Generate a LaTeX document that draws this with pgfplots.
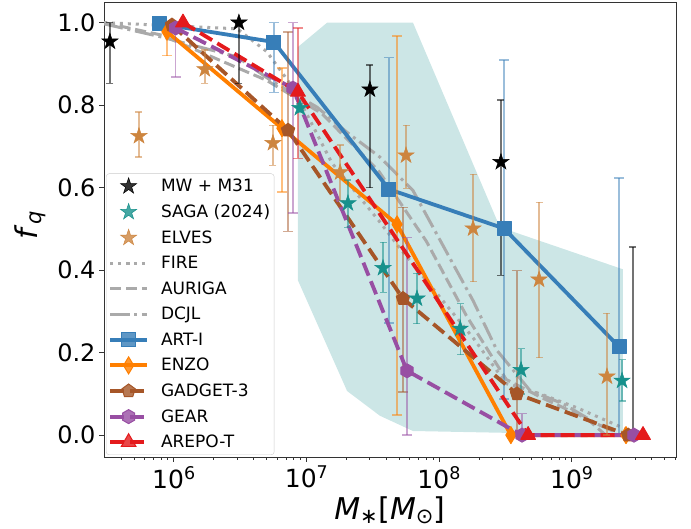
\documentclass[border=0pt]{standalone}
\usepackage{fontspec}
\setmainfont{DejaVu Sans}
\usepackage{pgfplots}
\pgfplotsset{compat=1.18}

\definecolor{cart}{HTML}{377EB8}
\definecolor{cenzo}{HTML}{FF7F00}
\definecolor{cgadget}{HTML}{A65628}
\definecolor{cgear}{HTML}{984EA3}
\definecolor{carepo}{HTML}{E41A1C}
\definecolor{csaga}{HTML}{17918C}
\definecolor{celves}{HTML}{CD853F}
\definecolor{cgrey}{HTML}{AAAAAA}
\definecolor{cshade}{HTML}{008080}

% matplotlib-like markers: filled star, thin diamond, hexagon
\pgfdeclareplotmark{fstar}{%
  \pgfpathmoveto{\pgfpointpolar{90}{\pgfplotmarksize}}%
  \pgfpathlineto{\pgfpointpolar{126}{0.382\pgfplotmarksize}}%
  \pgfpathlineto{\pgfpointpolar{162}{\pgfplotmarksize}}%
  \pgfpathlineto{\pgfpointpolar{198}{0.382\pgfplotmarksize}}%
  \pgfpathlineto{\pgfpointpolar{234}{\pgfplotmarksize}}%
  \pgfpathlineto{\pgfpointpolar{270}{0.382\pgfplotmarksize}}%
  \pgfpathlineto{\pgfpointpolar{306}{\pgfplotmarksize}}%
  \pgfpathlineto{\pgfpointpolar{342}{0.382\pgfplotmarksize}}%
  \pgfpathlineto{\pgfpointpolar{18}{\pgfplotmarksize}}%
  \pgfpathlineto{\pgfpointpolar{54}{0.382\pgfplotmarksize}}%
  \pgfpathclose\pgfusepathqfillstroke}
\pgfdeclareplotmark{tdiamond}{%
  \pgfpathmoveto{\pgfpoint{0pt}{\pgfplotmarksize}}%
  \pgfpathlineto{\pgfpoint{0.6\pgfplotmarksize}{0pt}}%
  \pgfpathlineto{\pgfpoint{0pt}{-\pgfplotmarksize}}%
  \pgfpathlineto{\pgfpoint{-0.6\pgfplotmarksize}{0pt}}%
  \pgfpathclose\pgfusepathqfillstroke}
\pgfdeclareplotmark{hexagon}{%
  \pgfpathmoveto{\pgfpointpolar{90}{\pgfplotmarksize}}%
  \pgfpathlineto{\pgfpointpolar{150}{\pgfplotmarksize}}%
  \pgfpathlineto{\pgfpointpolar{210}{\pgfplotmarksize}}%
  \pgfpathlineto{\pgfpointpolar{270}{\pgfplotmarksize}}%
  \pgfpathlineto{\pgfpointpolar{330}{\pgfplotmarksize}}%
  \pgfpathlineto{\pgfpointpolar{30}{\pgfplotmarksize}}%
  \pgfpathclose\pgfusepathqfillstroke}

\pgfplotsset{
  simerr/.style={error bars/.cd, y dir=both, y explicit,
    error bar style={line width=1.5pt, solid, draw opacity=0.5},
    error mark options={rotate=90, line width=1.5pt, mark size=5pt, draw opacity=0.5}},
  obserr/.style={error bars/.cd, y dir=both, y explicit,
    error bar style={line width=1.4pt, solid, draw opacity=0.55},
    error mark options={rotate=90, line width=1.4pt, mark size=3.5pt, draw opacity=0.55}},
  dashsim/.style={dash pattern=on 14pt off 6pt},
}

\begin{document}
\begin{tikzpicture}
\useasboundingbox (-104pt,-72pt) rectangle (587pt,457pt);
\begin{axis}[
  at={(0pt,0pt)}, anchor=south west,
  scale only axis, width=572pt, height=455pt,
  xmode=log, xmin=2.97e5, xmax=6.1e9, ymin=-0.053, ymax=1.05,
  axis line style={black!80, line width=0.9pt},
  tick align=outside, tick pos=left,
  major tick length=5pt, minor tick length=3pt,
  every tick/.style={black!80, line width=0.9pt},
  xtick={1e6,1e7,1e8,1e9},
  xticklabels={10\textsuperscript{6},10\textsuperscript{7},10\textsuperscript{8},10\textsuperscript{9}},
  minor xtick={4e5,5e5,6e5,7e5,8e5,9e5,2e6,3e6,4e6,5e6,6e6,7e6,8e6,9e6,2e7,3e7,4e7,5e7,6e7,7e7,8e7,9e7,2e8,3e8,4e8,5e8,6e8,7e8,8e8,9e8,2e9,3e9,4e9,5e9,6e9},
  ytick={0,0.2,0.4,0.6,0.8,1.0},
  yticklabels={0.0,0.2,0.4,0.6,0.8,1.0},
  tick label style={font=\fontsize{24}{24}\selectfont},
  xticklabel style={yshift=-3pt, inner sep=1pt, font=\fontsize{25}{25}\selectfont},
  xlabel={\textit{M}\textsubscript{∗}[\textit{M}\textsubscript{⊙}]},
  ylabel={\textit{f}\textsubscript{\textit{q}}},
  every axis x label/.style={at={(axis description cs:0.5,-0.117)}, anchor=center, inner sep=0pt,
    font=\fontsize{30}{30}\selectfont},
  every axis y label/.style={at={(axis description cs:-0.129,0.51)}, anchor=center, rotate=90,
    font=\fontsize{30}{30}\selectfont},
  legend style={at={(0.0035,0.0044)}, anchor=south west,
    draw=black!20, fill=white, fill opacity=0.8, text opacity=1,
    rounded corners=3pt, font=\fontsize{17}{17}\selectfont,
    inner xsep=2pt, inner ysep=3.5pt, row sep=7.5pt, column sep=10pt},
  legend cell align=left,
  legend image code/.code={\draw[mark repeat=2,mark phase=2,#1] plot coordinates {(0pt,0pt) (18.5pt,0pt) (37pt,0pt)};},
]

% legend entries, in the reference's order
\addlegendimage{only marks, mark=fstar, mark size=8.5pt, mark options={draw=black, fill=black, line width=0.5pt}}
\addlegendentry{MW + M31}
\addlegendimage{only marks, mark=fstar, mark size=8.5pt, mark options={draw=csaga, fill=csaga, line width=0.5pt}}
\addlegendentry{SAGA (2024)}
\addlegendimage{only marks, mark=fstar, mark size=8.5pt, mark options={draw=celves, fill=celves, line width=0.5pt}}
\addlegendentry{ELVES}
\addlegendimage{cgrey, line width=3pt, dash pattern=on 3pt off 4.95pt}
\addlegendentry{FIRE}
\addlegendimage{cgrey, line width=3pt, dash pattern=on 11.1pt off 4.8pt}
\addlegendentry{AURIGA}
\addlegendimage{cgrey, line width=3pt, dash pattern=on 19.2pt off 4.8pt on 3pt off 4.8pt}
\addlegendentry{DCJL}
\addlegendimage{cart, line width=3.8pt, mark=square*, mark size=7pt, mark options={solid, line width=1pt}}
\addlegendentry{ART-I}
\addlegendimage{cenzo, line width=3.8pt, mark=tdiamond, mark size=8.5pt, mark options={solid, line width=1pt}}
\addlegendentry{ENZO}
\addlegendimage{cgadget, line width=3.8pt, dashsim, mark=pentagon*, mark size=7pt, mark options={solid, line width=1pt}}
\addlegendentry{GADGET-3}
\addlegendimage{cgear, line width=3.8pt, dashsim, mark=hexagon, mark size=7pt, mark options={solid, line width=1pt}}
\addlegendentry{GEAR}
\addlegendimage{carepo, line width=3.8pt, dashsim, mark=triangle*, mark size=8.5pt, mark options={solid, line width=1pt}}
\addlegendentry{AREPO-T}

% shaded range
\addplot[forget plot, draw=none, fill=cshade!20] coordinates {
  (8.61e6,0.941) (1.43e7,1.0) (6.34e7,1.0) (2.87e8,0.504) (2.43e9,0.402)
  (2.43e9,0.0) (6.34e7,0.01) (3.57e7,0.047) (2.02e7,0.107) (8.61e6,0.375) (8.61e6,0.941)};

% grey model curves
\addplot[forget plot, cgrey, line width=3pt, dash pattern=on 3pt off 4.95pt] coordinates {
  (2.97e5,1.0) (3.0e6,0.985) (5e6,0.93) (8e6,0.84) (1.55e7,0.66) (3.5e7,0.52) (5.0e7,0.455)
  (1.8e8,0.236) (3.2e8,0.125) (5.8e8,0.10) (1.1e9,0.066) (2.75e9,0.01)};
\addplot[forget plot, cgrey, line width=3pt, dash pattern=on 11.1pt off 4.8pt] coordinates {
  (2.97e5,1.0) (8e5,0.97) (5e6,0.86) (1.3e7,0.78) (3.5e7,0.64) (8e7,0.47) (1.6e8,0.29)
  (3.2e8,0.135) (6e8,0.09) (1.3e9,0.04) (1.8e9,0.0)};
\addplot[forget plot, cgrey, line width=3pt, dash pattern=on 19.2pt off 4.8pt on 3pt off 4.8pt] coordinates {
  (2.97e5,0.997) (8.1e5,0.965) (3.0e6,0.917) (5.3e6,0.861) (1.2e7,0.795) (2.02e7,0.734)
  (3.57e7,0.674) (6.34e7,0.593) (1.8e8,0.326) (2.73e8,0.205) (4.84e8,0.108) (8.6e8,0.076)
  (1.55e9,0.027) (2.04e9,0.01)};

% MW + M31 point at zero: only its error bar shows
\addplot[forget plot, black, only marks, mark=none, obserr] coordinates {
  (2.89e9,0.0) += (0,0.456) -= (0,0)};

% simulations
\addplot[forget plot, cart, line width=3.8pt, line join=round, mark=square*, mark size=7pt,
  mark options={solid, line width=1pt}, simerr] coordinates {
  (7.83e5,0.997)
  (5.67e6,0.953) += (0,0.047) -= (0,0.122)
  (4.18e7,0.596) += (0,0.319) -= (0,0.324)
  (3.08e8,0.501) += (0,0.408) -= (0,0.413)
  (2.27e9,0.214) += (0,0.409) -= (0,0.214)};
\addplot[forget plot, cenzo, line width=3.8pt, line join=round, mark=tdiamond, mark size=8.5pt,
  mark options={solid, line width=1pt}, simerr] coordinates {
  (8.86e5,0.978) += (0,0.016) -= (0,0.058)
  (6.52e6,0.744) += (0,0.146) -= (0,0.155)
  (4.81e7,0.511) += (0,0.457) -= (0,0.462)
  (3.47e8,0.0)
  (2.56e9,0.0)};
\addplot[forget plot, cgadget, line width=3.8pt, dashsim, line join=round, mark=pentagon*, mark size=7pt,
  mark options={solid, line width=1pt}, simerr] coordinates {
  (9.66e5,0.994)
  (7.25e6,0.739) += (0,0.238) -= (0,0.245)
  (5.33e7,0.331) += (0,0.221) -= (0,0.226)
  (3.86e8,0.1) += (0,0.299) -= (0,0.1)
  (2.66e9,0.0)};
\addplot[forget plot, cgear, line width=3.8pt, dashsim, line join=round, mark=hexagon, mark size=7pt,
  mark options={solid, line width=1pt}, simerr] coordinates {
  (1.03e6,0.987) += (0,0.013) -= (0,0.119)
  (7.89e6,0.841) += (0,0.159) -= (0,0.303)
  (5.72e7,0.156) += (0,0.323) -= (0,0.156)
  (4.21e8,0.0) += (0,0.052) -= (0,0)
  (2.94e9,0.0)};
\addplot[forget plot, carepo, line width=3.8pt, dashsim, line join=round, mark=triangle*, mark size=8.5pt,
  mark options={solid, line width=1pt}, simerr] coordinates {
  (1.17e6,1.0)
  (8.61e6,0.832) += (0,0.155) -= (0,0.161)
  (4.68e8,0.0)
  (3.44e9,0.0)};

% observations
\addplot[forget plot, black, only marks, mark=fstar, mark size=8.5pt,
  mark options={draw=black, fill=black, line width=0.5pt}, obserr] coordinates {
  (3.29e5,0.954) += (0,0.046) -= (0,0.101)
  (3.09e6,1.0) += (0,0) -= (0,0.147)
  (3.0e7,0.838) += (0,0.059) -= (0,0.238)
  (2.92e8,0.662) += (0,0.150) -= (0,0.275)};
\addplot[forget plot, csaga, only marks, mark=fstar, mark size=8.5pt,
  mark options={draw=csaga, fill=csaga, line width=0.5pt}, obserr] coordinates {
  (8.9e6,0.793) += (0,0.01) -= (0,0.01)
  (2.05e7,0.562) += (0,0.056) -= (0,0.058)
  (3.77e7,0.405) += (0,0.062) -= (0,0.059)
  (6.8e7,0.331) += (0,0.061) -= (0,0.061)
  (1.44e8,0.258) += (0,0.061) -= (0,0.063)
  (4.14e8,0.158) += (0,0.052) -= (0,0.058)
  (2.39e9,0.132) += (0,0.051) -= (0,0.049)};
\addplot[forget plot, celves, only marks, mark=fstar, mark size=8.5pt,
  mark options={draw=celves, fill=celves, line width=0.5pt}, obserr] coordinates {
  (5.45e5,0.725) += (0,0.058) -= (0,0.051)
  (1.71e6,0.887) += (0,0.047) -= (0,0.034)
  (5.58e6,0.708) += (0,0.043) -= (0,0.054)
  (1.79e7,0.637) += (0,0.066) -= (0,0.068)
  (5.62e7,0.678) += (0,0.073) -= (0,0.080)
  (1.8e8,0.501) += (0,0.131) -= (0,0.129)
  (5.66e8,0.377) += (0,0.187) -= (0,0.189)
  (1.84e9,0.142) += (0,0.153) -= (0,0.142)};
\end{axis}
\end{tikzpicture}
\end{document}
